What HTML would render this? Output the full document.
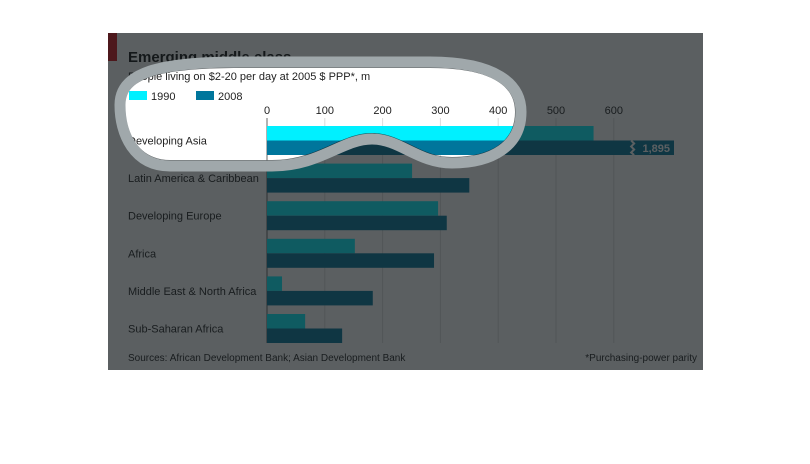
<!DOCTYPE html>
<html><head><meta charset="utf-8"><style>
html,body{margin:0;padding:0;background:#fff;}
svg{display:block;font-family:"Liberation Sans",sans-serif;}
</style></head><body>
<svg id="chart" width="810" height="464" viewBox="0 0 810 464">
<rect x="108" y="33" width="595" height="337" fill="#ffffff"/>
<rect x="108" y="33" width="9" height="28" fill="#d0121a"/>
<text x="128" y="62" font-size="15" font-weight="bold" fill="#111">Emerging middle class</text>
<text x="128" y="80" font-size="11" fill="#222">People living on $2-20 per day at 2005 $ PPP*, m</text>
<rect x="129" y="91" width="18" height="9" fill="#00f0ff"/>
<text x="151" y="100" font-size="11" fill="#222">1990</text>
<rect x="196" y="91" width="18" height="9" fill="#00769c"/>
<text x="218" y="100" font-size="11" fill="#222">2008</text>
<g id="grid"></g>
<g id="bars"></g>
<text x="128" y="361" font-size="10" fill="#222">Sources: African Development Bank; Asian Development Bank</text>
<text x="697" y="361" font-size="10" fill="#222" text-anchor="end">*Purchasing-power parity</text>
<path fill-rule="evenodd" fill="rgba(22,27,30,0.70)"
 d="M108,33 H703 V370 H108 Z M125,105 C125,78 160,68 240,68 L430,68 C492,68 515,86 515,112 C515,142 490,157 452,157 C420,157 402,133 372,133 C340,133 318,160 272,160 L170,160 C138,160 125,132 125,105 Z"/>
<path fill="none" stroke="#a0a8ab" stroke-width="11"
 d="M120,105 C120,72 160,62 240,62 L430,62 C496,62 521,84 521,112 C521,146 492,163 452,163 C418,163 400,139 372,139 C342,139 320,166 272,166 L170,166 C134,166 120,134 120,105 Z"/>
</svg>
<script>
const categories=["Developing Asia","Latin America & Caribbean","Developing Europe","Africa","Middle East & North Africa","Sub-Saharan Africa"];
const values1990=[565,251,296,152,26,66];
const values2008=[1895,350,311,289,183,130];
const tickValues=[0,100,200,300,400,500,600];
const tickLabels=["0","100","200","300","400","500","600"];
const NS="http://www.w3.org/2000/svg";
const x0=267,pxPer=0.578,rowTop=126,rowPitch=37.6,barH=14.5,breakVal=650;
const xs=v=>x0+v*pxPer;
function mk(tag,attrs,parent){const e=document.createElementNS(NS,tag);for(const k in attrs)e.setAttribute(k,attrs[k]);parent.appendChild(e);return e;}
const grid=document.getElementById('grid'),bars=document.getElementById('bars');
tickValues.forEach((t,i)=>{
  const l=mk('line',{x1:xs(t),x2:xs(t),y1:118,y2:343,stroke:t===0?'#666':'#dcdcdc','stroke-width':1},grid);
  
  
  const tx=mk('text',{x:xs(t),y:114,'font-size':11,fill:'#222','text-anchor':'middle'},grid);
  tx.textContent=tickLabels[i];
  
  
});
categories.forEach((c,i)=>{
  const y=rowTop+i*rowPitch;
  const lb=mk('text',{x:128,y:y+barH+4,'font-size':11,fill:'#222'},bars);
  lb.textContent=c;
  
  
  const b1=mk('rect',{x:x0,y:y,width:Math.min(values1990[i],breakVal)*pxPer,height:barH,fill:'#00f0ff'},bars);
  
  
  const v2=values2008[i];
  if(v2>breakVal){
    const b2=mk('rect',{x:x0,y:y+barH,width:674-x0,height:barH,fill:'#00769c'},bars);
    
    
    const bx=xs(630);
    const zz=mk('path',{d:`M${bx},${y+barH} l3,3 l-3,3 l3,3 l-3,3 l3,2.5`,stroke:'#fff',fill:'none','stroke-width':2},bars);
    
    
    const vl=mk('text',{x:670,y:y+2*barH-3,'font-size':11,'font-weight':'bold',fill:'#fff','text-anchor':'end'},bars);
    vl.textContent=v2.toLocaleString('en-US');
    
    
  } else {
    const b2=mk('rect',{x:x0,y:y+barH,width:v2*pxPer,height:barH,fill:'#00769c'},bars);
    
    
  }
});
</script>
</body></html>
